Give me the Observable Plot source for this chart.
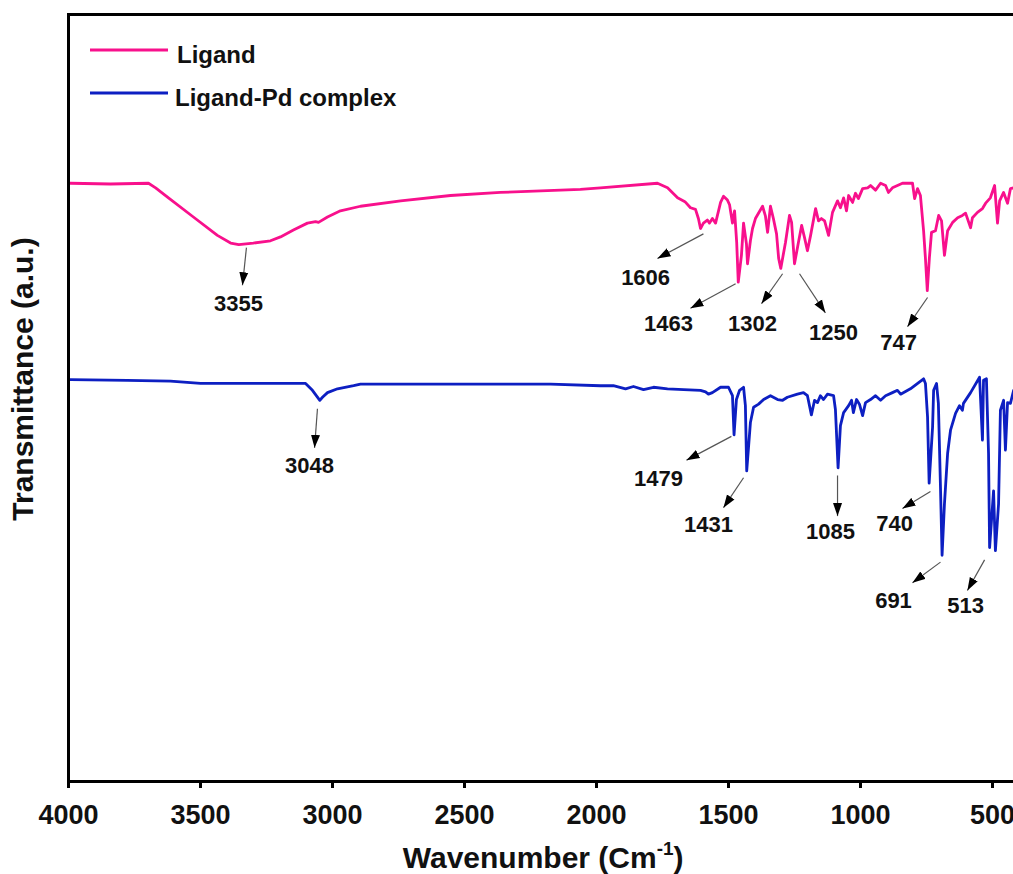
<!DOCTYPE html>
<html><head><meta charset="utf-8">
<script src="https://cdn.jsdelivr.net/npm/d3@7"></script>
<script src="https://cdn.jsdelivr.net/npm/@observablehq/plot@0.6"></script>
<style>
html,body{margin:0;padding:0;overflow:hidden;background:#fff;}
#chart{position:relative;width:1013px;height:874px;overflow:hidden;}
#chart svg{max-width:none !important;width:1060px;height:874px;display:block;}
</style></head><body><div id="chart"></div>
<script>
// ---- data (wavenumber cm-1, transmittance a.u.) ----
const ligandWavenumber = [4000,3992,3841,3697,3670,3625,3527,3436,3386,3355,3300,3235,3197,3148,3095,3064,3053,3019,2970,2894,2742,2553,2364,2136,2061,1985,1769,1731,1693,1665,1644,1625,1614,1606,1595,1580,1572,1561,1549,1530,1519,1504,1496,1485,1477,1469,1463,1451,1443,1432,1428,1417,1409,1398,1371,1360,1352,1341,1330,1318,1310,1302,1284,1269,1261,1250,1235,1223,1212,1201,1189,1170,1159,1148,1136,1121,1106,1087,1076,1064,1053,1045,1030,1019,1008,992,973,962,943,924,905,894,879,860,841,803,795,784,773,761,754,747,739,731,716,704,693,682,670,651,632,614,602,583,576,557,538,526,508,492,481,473,458,443,432,420,400];
const ligandTransmittance = [78.0,78.0,77.9,78.0,77.4,76.2,73.6,71.2,70.2,70.0,70.2,70.5,71.0,71.9,72.8,73.0,72.9,73.6,74.4,75.0,75.7,76.4,76.8,77.1,77.2,77.4,78.0,77.4,76.1,75.6,74.8,74.6,73.4,72.1,72.8,73.2,72.8,73.4,72.8,75.5,76.3,75.8,75.2,72.8,74.4,70.3,65.1,68.6,72.8,70.1,67.5,70.5,72.1,73.4,75.0,73.7,71.6,75.0,73.4,71.4,68.2,66.9,70.3,73.8,72.9,67.5,70.3,72.5,70.9,69.2,71.2,74.7,73.1,73.4,73.1,71.2,74.2,75.7,74.8,76.1,74.4,76.4,75.5,76.7,76.0,77.3,77.4,77.7,77.1,78.0,77.7,76.8,77.4,77.7,78.0,78.0,76.0,77.3,76.4,71.8,68.2,64.0,68.3,71.6,71.8,73.8,73.1,68.6,71.8,72.9,73.5,73.8,74.1,72.2,73.5,74.2,74.7,75.4,76.1,77.7,72.8,75.7,76.8,75.4,77.3,77.4,77.6];
const complexWavenumber = [4000,3992,3777,3614,3500,3322,3148,3102,3076,3048,3038,3019,2981,2920,2894,2553,2174,1985,1936,1890,1860,1822,1784,1731,1670,1606,1587,1576,1561,1530,1500,1485,1479,1470,1458,1443,1436,1431,1417,1405,1386,1367,1341,1314,1295,1277,1239,1216,1201,1186,1174,1163,1152,1140,1125,1102,1095,1085,1076,1064,1045,1034,1027,1015,1004,992,981,962,943,924,905,879,860,848,811,761,754,746,740,727,723,712,705,697,691,682,670,659,640,625,614,610,583,549,538,534,523,515,511,496,489,477,470,458,451,443,432,420,400];
const complexTransmittance = [52.4,52.4,52.3,52.2,51.9,51.9,51.9,51.9,51.0,49.7,50.1,50.7,51.2,51.6,51.8,51.8,51.8,51.6,51.6,51.2,51.5,51.1,51.4,51.2,51.1,51.0,50.8,50.5,50.7,51.4,51.4,50.3,45.2,49.8,51.0,51.4,49.0,40.5,46.8,48.8,49.2,49.8,50.3,49.8,49.7,50.1,50.5,50.7,50.3,47.8,49.7,49.4,50.3,49.8,50.5,50.3,48.5,40.9,46.4,48.1,49.0,49.7,48.1,49.8,49.2,47.7,49.4,49.8,50.3,49.7,50.3,50.7,51.0,50.5,51.2,52.5,51.9,47.5,38.9,46.2,51.0,51.9,49.3,38.3,29.5,36.2,42.8,45.8,48.0,49.0,48.4,49.3,50.7,52.7,44.5,52.3,52.5,42.8,30.5,37.9,30.1,36.2,48.4,49.7,43.2,49.4,49.3,51.0,51.5];

const xTicks = [4000,3500,3000,2500,2000,1500,1000,500];
const seriesNames = ["Ligand","Ligand-Pd complex"];
const seriesColors = ["#f8108c","#0d1fc2"];

// peak annotations
const peakLabels = ["3355","1606","1463","1302","1250","747","3048","1479","1431","1085","740","691","513"];
const arrowFromW = [3326,1595,1473,1295,1231,746,3057,1489,1443,1087,735,697,530];
const arrowFromT = [69.6,71.4,64.9,66.2,66.2,63.1,48.6,45.0,39.6,39.9,37.8,28.6,28.9];
const arrowToW   = [3341,1769,1644,1375,1133,822,3068,1659,1519,1087,841,803,595];
const arrowToT   = [64.7,68.2,61.7,62.3,61.1,59.3,43.5,41.9,35.7,34.6,35.6,25.9,24.9];
const labelW     = [3356,1814,1727,1409,1102,856,3087,1765,1576,1114,871,875,602];
const labelT     = [62.2,65.7,59.6,59.7,58.5,57.2,41.2,39.5,33.5,32.5,33.6,23.6,22.9];

// ---- build tables ----
const ligand = ligandWavenumber.map((w,i)=>({w, t: ligandTransmittance[i]}));
const complex = complexWavenumber.map((w,i)=>({w, t: complexTransmittance[i]}));
const peaks = peakLabels.map((label,i)=>({label, x1: arrowFromW[i], y1: arrowFromT[i], x2: arrowToW[i], y2: arrowToT[i], lx: labelW[i], ly: labelT[i]}));

function solidHead(color, context) {
  const ns = "http://www.w3.org/2000/svg";
  const doc = (context && context.document) || document;
  const m = doc.createElementNS(ns, "marker");
  m.setAttribute("viewBox", "-13 -5 14 10");
  m.setAttribute("markerWidth", "14");
  m.setAttribute("markerHeight", "10");
  m.setAttribute("markerUnits", "userSpaceOnUse");
  m.setAttribute("orient", "auto");
  m.setAttribute("refX", "0");
  m.setAttribute("refY", "0");
  const p = doc.createElementNS(ns, "path");
  p.setAttribute("d", "M0,0L-13,-4.5L-13,4.5Z");
  p.setAttribute("fill", "#000");
  p.setAttribute("stroke", "none");
  m.appendChild(p);
  return m;
}

const FONT = "'Liberation Sans', Arial, Helvetica, sans-serif";

const chart = Plot.plot({
  width: 1060,
  height: 874,
  marginLeft: 68,
  marginRight: 41.6,
  marginTop: 14,
  marginBottom: 93,
  style: {fontFamily: FONT, fontWeight: "bold", background: "white", overflow: "visible", maxWidth: "none"},
  x: {domain: [4000, 400], axis: null},
  y: {domain: [0, 100], axis: null},
  marks: [
    Plot.line(ligand, {x: "w", y: "t", stroke: seriesColors[0], strokeWidth: 2.8}),
    Plot.line(complex, {x: "w", y: "t", stroke: seriesColors[1], strokeWidth: 2.8}),
    Plot.link(peaks, {x1: "x1", y1: "y1", x2: "x2", y2: "y2", stroke: "#555", strokeWidth: 1.2, markerEnd: solidHead}),
    Plot.text(peaks, {x: "lx", y: "ly", text: "label", fontSize: 22, fontWeight: "bold", fill: "#111"}),
    Plot.frame({stroke: "#000", strokeWidth: 3}),
    Plot.axisX({ticks: xTicks, tickFormat: d => String(d), tickSize: 7, tickPadding: 16, strokeWidth: 3, fontSize: 27, fontWeight: "bold", fill: "#111", label: null})
  ]
});
chart.style.maxWidth = "none";
document.getElementById("chart").appendChild(chart);

// ---- titles & legend ----
const svg = d3.select(chart);
const xs = chart.scale("x");
const xMid = (xs.range[0] + xs.range[1]) / 2;
const xt = svg.append("text").attr("x", xMid).attr("y", 868).attr("text-anchor", "middle")
  .attr("fill", "#111").style("font-size", "30px").style("font-weight", "bold").style("font-family", FONT);
xt.append("tspan").text("Wavenumber (Cm");
xt.append("tspan").attr("dy", -13).style("font-size", "19px").text("-1");
xt.append("tspan").attr("dy", 13).text(")");

svg.append("text").attr("transform", "translate(33,379) rotate(-90)").attr("text-anchor", "middle")
  .attr("fill", "#111").style("font-size", "30px").style("font-weight", "bold").style("font-family", FONT)
  .text("Transmittance (a.u.)");

const leg = svg.append("g");
seriesNames.forEach((name, i) => {
  const yy = 50 + i * 43;
  leg.append("line").attr("x1", 90).attr("x2", 168).attr("y1", yy).attr("y2", yy)
    .attr("stroke", seriesColors[i]).attr("stroke-width", 3.2);
  leg.append("text").attr("x", i === 0 ? 177 : 175).attr("y", yy + 12.5).attr("fill", "#111")
    .attr("text-anchor", "start")
    .style("font-size", "24px").style("font-weight", "bold").style("font-family", FONT).text(name);
});
</script>
</body></html>
